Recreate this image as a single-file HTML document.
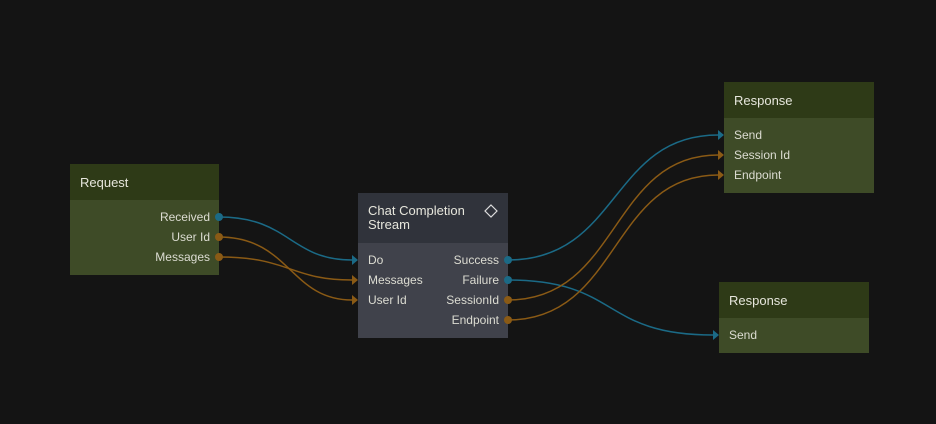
<!DOCTYPE html>
<html><head><style>
body{margin:0;width:936px;height:424px;background:#141414;overflow:hidden;font-family:"Liberation Sans",sans-serif;position:relative}
.n{position:absolute;box-sizing:border-box}
.h{position:absolute;left:0;right:0;top:0;color:#e6e6dc;font-size:13px;padding-left:10px;box-sizing:border-box}
.b{position:absolute;left:0;right:0;bottom:0}
.t{position:absolute;color:#dcdcd2;font-size:12px;white-space:nowrap}
.g .h{background:#2e3a17}.g .b{background:#3e4b27}
</style></head><body>
<div class="n g" style="left:70px;top:164px;width:149px;height:111px"><div class="h" style="height:36px;line-height:38px">Request</div><div class="b" style="top:36px"></div>
<div class="t" style="right:9px;top:46px">Received</div><div class="t" style="right:9px;top:66px">User Id</div><div class="t" style="right:9px;top:86px">Messages</div></div>
<div class="n" style="left:358px;top:193px;width:150px;height:145px"><div class="h" style="height:50px;background:#30333b;padding-top:11px;line-height:14px">Chat Completion<br>Stream</div><div class="b" style="top:50px;background:#40424b"></div>
<div class="t" style="left:10px;top:60px">Do</div><div class="t" style="left:10px;top:80px">Messages</div><div class="t" style="left:10px;top:100px">User Id</div>
<div class="t" style="right:9px;top:60px">Success</div><div class="t" style="right:9px;top:80px">Failure</div><div class="t" style="right:9px;top:100px">SessionId</div><div class="t" style="right:9px;top:120px">Endpoint</div></div>
<div class="n g" style="left:724px;top:82px;width:150px;height:111px"><div class="h" style="height:36px;line-height:38px">Response</div><div class="b" style="top:36px"></div>
<div class="t" style="left:10px;top:46px">Send</div><div class="t" style="left:10px;top:66px">Session Id</div><div class="t" style="left:10px;top:86px">Endpoint</div></div>
<div class="n g" style="left:719px;top:282px;width:150px;height:71px"><div class="h" style="height:36px;line-height:38px">Response</div><div class="b" style="top:36px"></div>
<div class="t" style="left:10px;top:46px">Send</div></div>
<svg width="936" height="424" style="position:absolute;left:0;top:0" fill="none" stroke-width="1.5">
<g stroke="#1b6a86"><path d="M219 217C290 217 290 260 352 260"/><path d="M508 260C620 260 610 135 718 135"/><path d="M508 280C620 280 600 335 713 335"/></g>
<g stroke="#8a5a15"><path d="M219 237C290 237 290 300 352 300"/><path d="M219 257C290 257 290 280 352 280"/><path d="M508 300C620 300 610 155 718 155"/><path d="M508 320C620 320 610 175 718 175"/></g>
<path d="M491 205l6 6-6 6-6-6z" stroke="#ddd" stroke-width="1.2"/>
<g fill="#1b6a86" stroke="none"><circle cx="219" cy="217" r="4"/><circle cx="508" cy="260" r="4"/><circle cx="508" cy="280" r="4"/>
<path d="M352 255l6 5-6 5z"/><path d="M718 130l6 5-6 5z"/><path d="M713 330l6 5-6 5z"/></g>
<g fill="#8a5a15" stroke="none"><circle cx="219" cy="237" r="4"/><circle cx="219" cy="257" r="4"/><circle cx="508" cy="300" r="4"/><circle cx="508" cy="320" r="4"/>
<path d="M352 275l6 5-6 5z"/><path d="M352 295l6 5-6 5z"/><path d="M718 150l6 5-6 5z"/><path d="M718 170l6 5-6 5z"/></g>
</svg>
</body></html>
